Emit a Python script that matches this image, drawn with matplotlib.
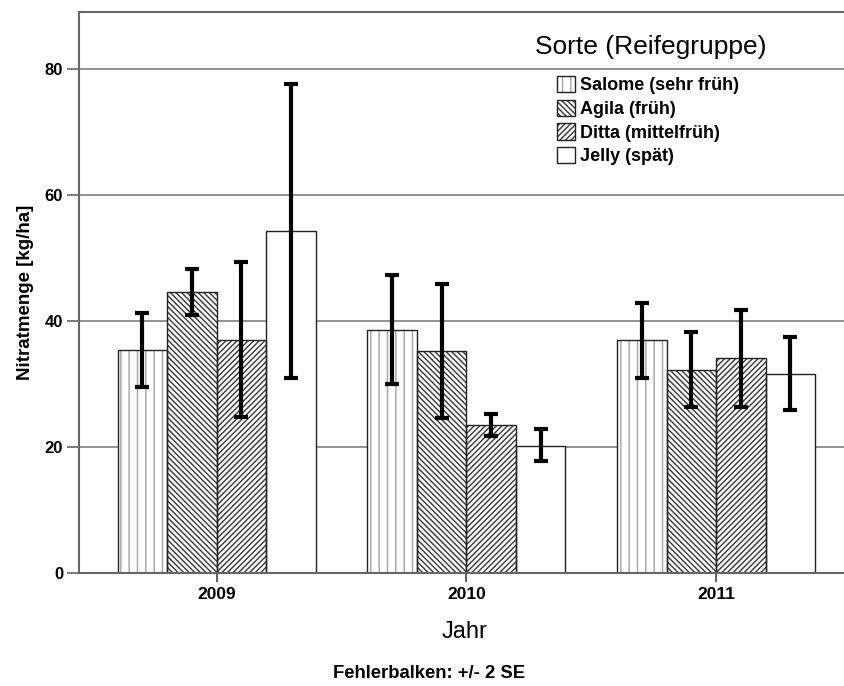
import numpy as np
import matplotlib
matplotlib.use('Agg')
import matplotlib.pyplot as plt
from matplotlib.patches import Patch
from matplotlib.legend_handler import HandlerTuple

plt.rcParams['font.family'] = ['Liberation Sans', 'DejaVu Sans']
plt.rcParams['hatch.linewidth'] = 1.1

# Data
years = ['2009', '2010', '2011']
sorten = ['Salome (sehr früh)', 'Agila (früh)', 'Ditta (mittelfrüh)', 'Jelly (spät)']
means = {
    'Salome (sehr früh)': [35.3, 38.6, 37.0],
    'Agila (früh)': [44.6, 35.2, 32.2],
    'Ditta (mittelfrüh)': [37.0, 23.5, 34.1],
    'Jelly (spät)': [54.2, 20.2, 31.6],
}
err_low = {
    'Salome (sehr früh)': [29.5, 30.0, 31.0],
    'Agila (früh)': [41.0, 24.6, 26.4],
    'Ditta (mittelfrüh)': [24.7, 21.8, 26.4],
    'Jelly (spät)': [31.0, 17.8, 25.8],
}
err_high = {
    'Salome (sehr früh)': [41.2, 47.3, 42.8],
    'Agila (früh)': [48.2, 45.8, 38.2],
    'Ditta (mittelfrüh)': [49.3, 25.3, 41.8],
    'Jelly (spät)': [77.5, 22.8, 37.5],
}
hatches = ['||', '\\\\\\\\\\\\', '//////', '']
hatch_colors = ['#aaaaaa', '#444444', '#444444', '#444444']

W, H = 845, 686
fig = plt.figure(figsize=(W / 100, H / 100), dpi=100)
ax = fig.add_axes([79 / W, 1 - 573 / H, 1 - 79 / W + 0.01, (573 - 12) / H])

x = np.arange(len(years))
w = 0.198
handles = []
for i, s in enumerate(sorten):
    pos = x + (i - 1.5) * w
    vals = np.array(means[s])
    # hatch layer (hatch colour follows edgecolor), then black outline on top
    ax.bar(pos, vals, width=w, facecolor='white', edgecolor=hatch_colors[i],
           linewidth=0, hatch=hatches[i], zorder=2)
    ax.bar(pos, vals, width=w, fill=False, edgecolor='#222222', linewidth=1.0, zorder=2.1)
    lo = vals - np.array(err_low[s])
    hi = np.array(err_high[s]) - vals
    ax.errorbar(pos, vals, yerr=[lo, hi], fmt='none', ecolor='black',
                elinewidth=3, capsize=5, capthick=3, zorder=3)
    handles.append((Patch(facecolor='white', edgecolor=hatch_colors[i], linewidth=0, hatch=hatches[i]),
                    Patch(fill=False, edgecolor='#222222', linewidth=1.0)))

ax.set_ylim(0, 89)
ax.set_xlim(-0.551, 2.55)
ax.set_yticks([0, 20, 40, 60, 80])
ax.set_xticks(x)
ax.set_xticklabels(years)
ax.yaxis.grid(True, color='#888888', linewidth=1.3, zorder=0)
ax.set_axisbelow(True)

for sp in ['left', 'bottom', 'top']:
    ax.spines[sp].set_color('#666666')
    ax.spines[sp].set_linewidth(1.5)
ax.spines['right'].set_visible(False)
ax.tick_params(axis='y', length=8.5, width=1.2, color='#666666', labelsize=12, pad=3)
ax.tick_params(axis='x', length=6.5, width=1.2, color='#444444', labelsize=12.5, pad=3.5)
for lab in ax.get_xticklabels() + ax.get_yticklabels():
    lab.set_fontweight('bold')

ax.set_ylabel('Nitratmenge [kg/ha]', fontsize=13.5, fontweight='bold')
ax.yaxis.set_label_coords(-0.058, 0.5)
ax.set_xlabel('Jahr', fontsize=17)
ax.xaxis.set_label_coords(0.498, -0.085)
fig.text(429 / W, 1 - 673 / H, 'Fehlerbalken: +/- 2 SE', ha='center', va='center',
         fontsize=13.3, fontweight='bold')

# legend: title as separate text, entries below
fig.text(535 / W, 1 - 47 / H, 'Sorte (Reifegruppe)', ha='left', va='center', fontsize=19)
leg = ax.legend(handles, sorten, loc='upper left', bbox_to_anchor=(557 / W, 1 - 76 / H),
                bbox_transform=fig.transFigure, frameon=False,
                prop={'weight': 'bold', 'size': 13}, handlelength=1.0, handleheight=1.0,
                handletextpad=0.28, labelspacing=0.3, borderpad=0, borderaxespad=0,
                handler_map={tuple: HandlerTuple(ndivide=1)})

fig.savefig('out.png', dpi=100)
